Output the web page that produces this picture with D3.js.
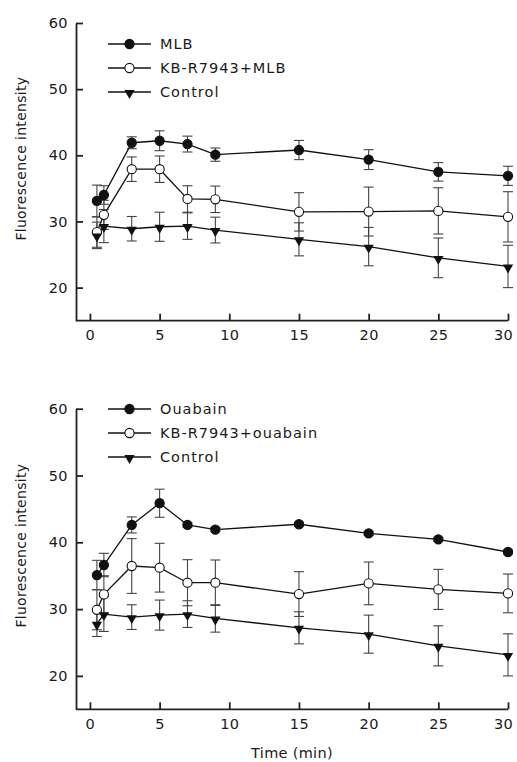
<!DOCTYPE html>
<html>
<head>
<meta charset="utf-8">
<script src="https://cdn.jsdelivr.net/npm/d3@7"></script>
<style>
  html, body { margin: 0; padding: 0; background: #fff; }
  svg { display: block; }
  text { font-family: "DejaVu Sans", sans-serif; fill: #1a1a1a; }
</style>
</head>
<body>
<svg id="chart" width="517" height="762"></svg>
<script>
// ---- data ----
const times = [0.5, 1, 3, 5, 7, 9, 15, 20, 25, 30];
const xTicks = [0, 5, 10, 15, 20, 25, 30];
const yTicks = [20, 30, 40, 50, 60];

// Panel A (MLB)
const mlbMean   = [33.1, 34.0, 41.9, 42.2, 41.7, 40.1, 40.8, 39.35, 37.5, 36.9];
const mlbErr    = [2.4, 1.4, 0.9, 1.5, 1.2, 1.0, 1.45, 1.5, 1.4, 1.45];
const kbMlbMean = [28.4, 31.0, 37.9, 37.9, 33.4, 33.35, 31.45, 31.5, 31.6, 30.7];
const kbMlbErr  = [2.3, 2.2, 1.85, 2.0, 2.0, 2.0, 2.9, 3.7, 3.5, 3.8];
const ctlAMean  = [27.9, 29.3, 28.9, 29.2, 29.3, 28.7, 27.3, 26.2, 24.5, 23.2];
const ctlAErr   = [2.0, 2.5, 1.85, 2.2, 2.0, 1.95, 2.5, 2.9, 3.0, 3.2];

// Panel B (ouabain)
const ouaMean   = [35.1, 36.6, 42.6, 45.85, 42.6, 41.9, 42.7, 41.35, 40.45, 38.55];
const ouaErr    = [2.2, 1.75, 1.2, 2.1, 0.3, 0.3, 0.3, 0.3, 0.3, 0.3];
const kbOuaMean = [29.9, 32.2, 36.45, 36.2, 33.95, 33.95, 32.25, 33.85, 32.95, 32.35];
const kbOuaErr  = [3.0, 2.8, 4.1, 3.65, 3.45, 3.4, 3.35, 3.2, 3.0, 2.9];
const ctlBMean  = [27.8, 29.25, 28.8, 29.1, 29.25, 28.6, 27.2, 26.25, 24.5, 23.15];
const ctlBErr   = [1.9, 2.6, 1.85, 2.25, 2.0, 2.05, 2.4, 2.85, 3.0, 3.15];

const panelALabels = ["MLB", "KB-R7943+MLB", "Control"];
const panelBLabels = ["Ouabain", "KB-R7943+ouabain", "Control"];
const markerTypes = ["filled", "open", "triangle"];

const xLabel = "Time (min)";
const yLabel = "Fluorescence intensity";

// ---- drawing ----
const svg = d3.select("#chart");
const x = d3.scaleLinear().domain([-1, 30]).range([76, 508]);

function drawMarker(g, type, cx, cy) {
  if (type === "triangle") {
    g.append("path")
      .attr("d", d3.symbol().type(d3.symbolTriangle).size(46)())
      .attr("transform", `translate(${cx},${cy + 1}) rotate(180)`)
      .attr("fill", "#111");
  } else {
    g.append("circle")
      .attr("cx", cx).attr("cy", cy).attr("r", 4.6)
      .attr("fill", type === "filled" ? "#111" : "#fff")
      .attr("stroke", "#111").attr("stroke-width", 1.1);
  }
}

function drawPanel(cfg) {
  const y = d3.scaleLinear().domain([15, 60]).range([cfg.bottom, cfg.top]);
  const g = svg.append("g");

  // axes
  const yAxis = d3.axisLeft(y).tickValues(yTicks).tickSize(-7).tickPadding(8).tickSizeOuter(0);
  const gy = g.append("g").attr("transform", `translate(${x.range()[0]},0)`).call(yAxis);
  const xAxis = d3.axisBottom(x).tickValues(xTicks).tickSize(-7).tickPadding(9).tickSizeOuter(0);
  const gx = g.append("g").attr("transform", `translate(0,${cfg.bottom})`).call(xAxis);

  [gx, gy].forEach(a => {
    a.select(".domain").attr("stroke", "#222").attr("stroke-width", 1.8);
    a.selectAll(".tick line").attr("stroke", "#222").attr("stroke-width", 1.8);
    a.selectAll(".tick text")
      .style("font-family", '"DejaVu Sans", sans-serif')
      .style("font-size", "14.5px")
      .style("letter-spacing", "0.4px")
      .attr("fill", "#1a1a1a");
  });
  // last x label sits slightly left of its tick, as in the reference
  gx.selectAll(".tick text").filter(d => d === xTicks[xTicks.length - 1]).attr("dx", "-5");
  gx.select(".domain").attr("d", `M${x.range()[0]},0H${x.range()[1]}`);

  // y label
  g.append("text")
    .attr("transform", `translate(26,${y(39.5)}) rotate(-90)`)
    .attr("text-anchor", "middle")
    .style("font-size", "14px")
    .style("letter-spacing", "0.3px")
    .text(yLabel);

  const line = d3.line().x(d => x(d[0])).y(d => y(d[1]));

  cfg.series.forEach((s, si) => {
    const pts = times.map((t, i) => [t, s.mean[i], s.err[i]]);
    const eb = g.append("g").attr("stroke", "#444").attr("stroke-width", 1.1).attr("fill", "none");
    pts.forEach(p => {
      const cx = x(p[0]), y1 = y(p[1] + p[2]), y2 = y(p[1] - p[2]);
      eb.append("line").attr("x1", cx).attr("x2", cx).attr("y1", y1).attr("y2", y2);
      eb.append("line").attr("x1", cx - 5).attr("x2", cx + 5).attr("y1", y1).attr("y2", y1);
      eb.append("line").attr("x1", cx - 5).attr("x2", cx + 5).attr("y1", y2).attr("y2", y2);
    });
    g.append("path").datum(pts).attr("d", line)
      .attr("fill", "none").attr("stroke", "#111").attr("stroke-width", 1.3);
  });
  cfg.series.forEach((s, si) => {
    const mg = g.append("g");
    times.forEach((t, i) => drawMarker(mg, markerTypes[si], x(t), y(s.mean[i])));
  });

  // legend
  const lg = g.append("g");
  cfg.labels.forEach((lab, i) => {
    const ly = cfg.legendY + i * 24;
    lg.append("line").attr("x1", 108).attr("x2", 151).attr("y1", ly).attr("y2", ly)
      .attr("stroke", "#111").attr("stroke-width", 1.3);
    drawMarker(lg, markerTypes[i], 129.5, ly);
    lg.append("text").attr("x", 160).attr("y", ly).attr("dy", "0.36em")
      .style("font-size", "14.5px").style("letter-spacing", "1px")
      .text(lab);
  });
}

drawPanel({
  top: 23, bottom: 320.7, legendY: 44,
  labels: panelALabels,
  series: [
    { mean: mlbMean, err: mlbErr },
    { mean: kbMlbMean, err: kbMlbErr },
    { mean: ctlAMean, err: ctlAErr }
  ]
});

drawPanel({
  top: 408.7, bottom: 709.3, legendY: 409,
  labels: panelBLabels,
  series: [
    { mean: ouaMean, err: ouaErr },
    { mean: kbOuaMean, err: kbOuaErr },
    { mean: ctlBMean, err: ctlBErr }
  ]
});

svg.append("text")
  .attr("x", (x.range()[0] + x.range()[1]) / 2)
  .attr("y", 758)
  .attr("text-anchor", "middle")
  .style("font-size", "14.5px")
  .style("letter-spacing", "0.3px")
  .text(xLabel);
</script>
</body>
</html>
